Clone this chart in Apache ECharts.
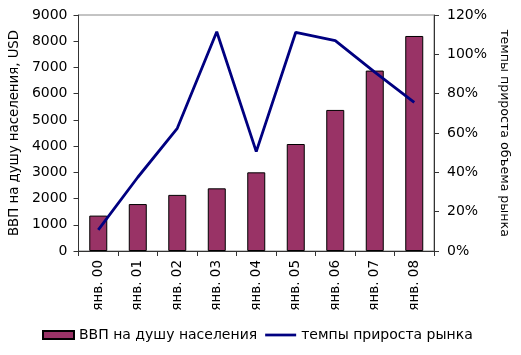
<!DOCTYPE html>
<html><head><meta charset="utf-8">
<script src="https://cdn.jsdelivr.net/npm/echarts@6/dist/echarts.min.js"></script>
<style>html,body{margin:0;padding:0;background:#fff}#c{width:521px;height:355px}</style>
</head><body><div id="c"></div>
<script>
var categories = ['янв. 00','янв. 01','янв. 02','янв. 03','янв. 04','янв. 05','янв. 06','янв. 07','янв. 08'];
var gdpPerCapita = [1350, 1790, 2140, 2390, 3000, 4080, 5380, 6880, 8200];
var marketGrowth = [0.107, 0.375, 0.624, 1.115, 0.505, 1.112, 1.07, 0.91, 0.756];
var seriesNames = ['ВВП на душу населения', 'темпы прироста рынка'];
var axisNames = ['ВВП на душу населения, USD', 'темпы прироста объема рынка'];

var font = '"DejaVu Sans", Arial, sans-serif';
var chart = echarts.init(document.getElementById('c'));
chart.setOption({
  animation: false,
  grid: {left: 73, right: 87, top: 15, bottom: 104, show: true, borderColor: '#888', borderWidth: 1},
  legend: {
    bottom: 8, left: 37, itemWidth: 31, itemHeight: 8, itemGap: 8,
    textStyle: {fontFamily: font, fontSize: 14, color: '#000'},
    data: [
      {name: seriesNames[0], icon: 'rect'},
      {name: seriesNames[1], icon: 'path://M0,0h34v3h-34z', itemStyle: {color: '#000080'}}
    ]
  },
  xAxis: {
    type: 'category', data: categories, boundaryGap: true,
    axisLine: {lineStyle: {color: '#333'}},
    axisTick: {show: true, length: 5, lineStyle: {color: '#333'}},
    axisLabel: {rotate: 90, fontFamily: font, fontSize: 13.5, color: '#000', margin: 9}
  },
  yAxis: [{
    type: 'value', min: 0, max: 9000, interval: 1000, position: 'left',
    name: axisNames[0], nameLocation: 'middle', nameGap: 46, nameRotate: 90,
    nameTextStyle: {fontFamily: font, fontSize: 13.3, color: '#000'},
    axisLine: {show: true, lineStyle: {color: '#333'}},
    axisTick: {show: true, length: 5, lineStyle: {color: '#333'}},
    axisLabel: {fontFamily: font, fontSize: 14, color: '#000', margin: 11,
      formatter: function (v) { return String(v); }},
    splitLine: {show: false}
  }, {
    type: 'value', min: 0, max: 1.2, interval: 0.2, position: 'right',
    name: axisNames[1], nameLocation: 'middle', nameGap: 61, nameRotate: -90,
    nameTextStyle: {fontFamily: font, fontSize: 12.6, color: '#000'},
    axisLine: {show: true, lineStyle: {color: '#333'}},
    axisTick: {show: true, length: 5, lineStyle: {color: '#333'}},
    axisLabel: {fontFamily: font, fontSize: 14, color: '#000', margin: 13,
      formatter: function (v) { return Math.round(v * 100) + '%'; }},
    splitLine: {show: false}
  }],
  series: [{
    name: seriesNames[0], type: 'bar', data: gdpPerCapita, yAxisIndex: 0,
    barWidth: 18,
    itemStyle: {color: '#993366', borderColor: '#000', borderWidth: 1}
  }, {
    name: seriesNames[1], type: 'line', data: marketGrowth, yAxisIndex: 1,
    symbol: 'none', lineStyle: {color: '#000080', width: 2.8}, itemStyle: {color: '#000080'}
  }]
});
</script></body></html>
